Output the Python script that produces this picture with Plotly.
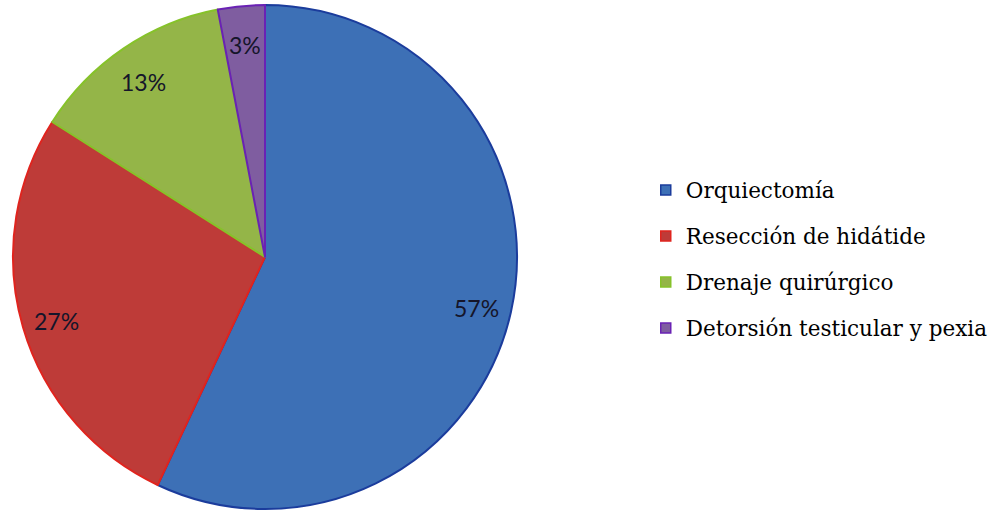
import math
import plotly.graph_objects as go

# Surgical procedures and their share (%)
procedures = ["Orquiectomía", "Resección de hidátide", "Drenaje quirúrgico",
              "Detorsión testicular y pexia"]
shares = [57, 27, 13, 3]

fill_colors = ["#3d70b6", "#be3b38", "#94b548", "#7f5da0"]
edge_colors = ["#1b3c9c", "#e0241e", "#86c22a", "#6a22b4"]

W, H = 995, 511
cx, cy, R = 265, 257, 252  # pie centre and radius in pixels

fig = go.Figure()
fig.add_trace(go.Pie(
    labels=procedures,
    values=shares,
    sort=False,
    direction="clockwise",
    rotation=0,
    marker=dict(colors=fill_colors, line=dict(color=edge_colors, width=2)),
    textinfo="none",
    hoverinfo="label+percent",
    showlegend=False,
    domain=dict(x=[(cx - R) / W, (cx + R) / W], y=[1 - (cy + R) / H, 1 - (cy - R) / H]),
))

# Percentage labels placed near the rim, at each slice's middle angle
total = sum(shares)
start = 0.0
for v in shares:
    mid = start + v / total * 360 / 2
    start += v / total * 360
    a = math.radians(mid)
    r = 0.86 * R
    px = cx + r * math.sin(a)
    py = cy - r * math.cos(a) + 4
    fig.add_annotation(
        x=px / W, y=1 - py / H, xref="paper", yref="paper",
        xanchor="center", yanchor="middle",
        text=f"{v}%", showarrow=False,
        font=dict(family="Lato", size=23, color="#15152a"),
    )

# Legend entries
for name, fc, ec in zip(procedures, fill_colors, edge_colors):
    fig.add_trace(go.Scatter(
        x=[None], y=[None], mode="markers", name=name, legendgroup=name,
        marker=dict(symbol="square", size=10, color=fc, line=dict(color=ec, width=1.5)),
    ))

fig.update_layout(
    width=W, height=H,
    margin=dict(l=0, r=0, t=0, b=0),
    paper_bgcolor="white", plot_bgcolor="white",
    xaxis=dict(visible=False), yaxis=dict(visible=False),
    legend=dict(
        x=0.649, y=0.493, xanchor="left", yanchor="middle",
        font=dict(family="DejaVu Serif", size=21.5, color="#000000"),
        tracegroupgap=15, traceorder="grouped",
        itemwidth=30,
    ),
)

fig.write_html("out.html")
